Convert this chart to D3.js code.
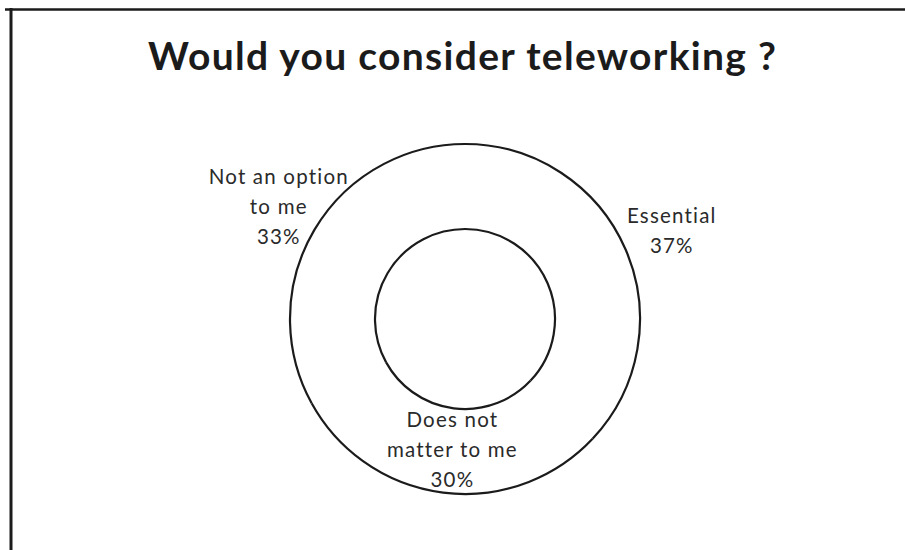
<!DOCTYPE html>
<html>
<head>
<meta charset="utf-8">
<script src="https://cdn.jsdelivr.net/npm/d3@7"></script>
<style>
  html, body { margin: 0; padding: 0; background: #fff; }
  svg { display: block; }
</style>
</head>
<body>
<svg id="chart" width="905" height="550"></svg>
<script>
// Survey answers, in drawing order (clockwise from 12 o'clock)
const categories = ["Essential", "Does not matter to me", "Not an option to me"];
const labelLines = [["Essential"], ["Does not", "matter to me"], ["Not an option", "to me"]];
const values = [37, 30, 33];
const title = "Would you consider teleworking ?";

const W = 905, H = 550;
const cx = 465, cy = 319;
const outerR = 175, innerR = 90;
const labelR = 221;
const font = "Lato, 'Open Sans', sans-serif";
const ink = "#1b1b1b";

const svg = d3.select("#chart");

// page frame
svg.append("rect").attr("x", 0).attr("y", 0).attr("width", W).attr("height", H).attr("fill", "#fff");
svg.append("line").attr("x1", 5).attr("x2", W).attr("y1", 9.5).attr("y2", 9.5)
  .attr("stroke", ink).attr("stroke-width", 2.5);
svg.append("line").attr("x1", 11).attr("x2", 11).attr("y1", 8).attr("y2", H)
  .attr("stroke", ink).attr("stroke-width", 3);

// title
svg.append("text")
  .attr("x", 462).attr("y", 69.5)
  .attr("text-anchor", "middle")
  .attr("font-family", font).attr("font-weight", "bold")
  .attr("font-size", 39).attr("fill", ink)
  .attr("textLength", 628).attr("lengthAdjust", "spacing")
  .text(title);

const pie = d3.pie().sort(null).value(d => d)(values);

const g = svg.append("g").attr("transform", `translate(${cx},${cy})`);

const ring = d3.arc().innerRadius(innerR).outerRadius(outerR);
const outerEdge = d3.arc().innerRadius(outerR).outerRadius(outerR);
const innerEdge = d3.arc().innerRadius(innerR).outerRadius(innerR);
const outside = d3.arc().innerRadius(labelR).outerRadius(labelR);

// white slices, only the ring edges are stroked
g.selectAll("path.slice").data(pie).join("path")
  .attr("class", "slice")
  .attr("d", ring)
  .attr("fill", "#fff");

g.selectAll("path.outer").data(pie).join("path")
  .attr("class", "outer")
  .attr("d", outerEdge)
  .attr("fill", "none").attr("stroke", ink).attr("stroke-width", 2.2);

g.selectAll("path.inner").data(pie).join("path")
  .attr("class", "inner")
  .attr("d", innerEdge)
  .attr("fill", "none").attr("stroke", ink).attr("stroke-width", 2.2);

// data labels: outside the ring, except the bottom slice which sits on the ring
const lineH = 30;
g.selectAll("text.label").data(pie).join("text")
  .attr("class", "label")
  .attr("text-anchor", "middle")
  .attr("font-family", font).attr("font-size", 20.5)
  .attr("letter-spacing", 1.2).attr("fill", "#2a2a2a")
  .each(function(d, i) {
    const pos = i === 1 ? ring.centroid(d) : outside.centroid(d);
    const lines = labelLines[i].concat([d3.format(".0%")(values[i] / d3.sum(values))]);
    const top = pos[1] - (lines.length - 1) * lineH / 2 + 7;
    d3.select(this).selectAll("tspan").data(lines).join("tspan")
      .attr("x", pos[0] + 4)
      .attr("y", (t, k) => top + k * lineH)
      .text(t => t);
  });
</script>
</body>
</html>
